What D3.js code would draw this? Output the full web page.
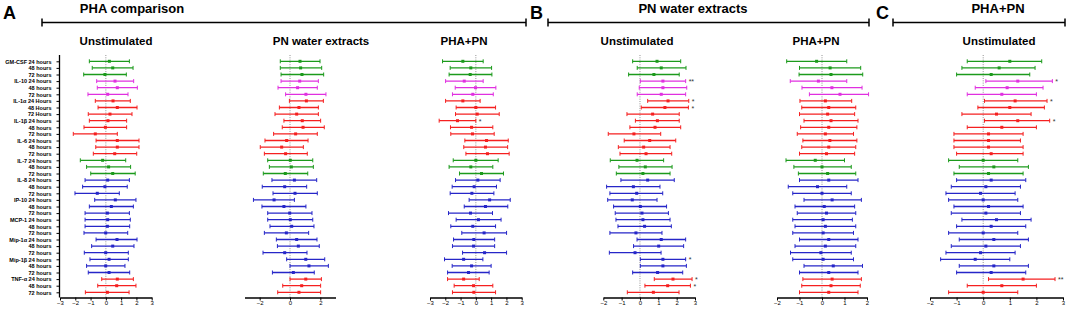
<!DOCTYPE html>
<html><head><meta charset="utf-8">
<script src="https://cdn.jsdelivr.net/npm/d3@7"></script>
<style>
html,body{margin:0;padding:0;background:#fff;}
svg{display:block;font-family:"Liberation Sans",Arial,sans-serif;}
</style></head>
<body><svg id="c" width="1072" height="309"></svg>
<script>
// ---------- DATA ----------
const rowLabels = [
 "GM-CSF 24 hours","48 hours","72 hours",
 "IL-10 24 hours","48 hours","72 hours",
 "IL-1\u03b1 24 Hours","48 Hours","72 Hours",
 "IL-1\u03b2 24 hours","48 hours","72 hours",
 "IL-6 24 hours","48 hours","72 hours",
 "IL-7 24 hours","48 hours","72 hours",
 "IL-8 24 hours","48 hours","72 hours",
 "IP-10 24 hours","48 hours","72 hours",
 "MCP-1 24 hours","48 hours","72 hours",
 "Mip-1\u03b1 24 hours","48 hours","72 hours",
 "Mip-1\u03b2 24 hours","48 hours","72 hours",
 "TNF-\u03b1 24 hours","48 hours","72 hours"
];
const cytokineGroup = ["green","magenta","red","red","red","green","blue","blue","blue","blue","blue","red"];

// [low, mean, high] per row
const phaUnstim = [
 [-1.08,0.23,1.54],[-0.89,0.45,1.78],[-1.45,-0.06,1.34],
 [-0.60,0.60,1.82],[-0.56,0.75,2.06],[-1.17,0.12,1.45],
 [-0.69,0.47,1.60],[-0.51,0.75,2.04],[-1.15,0.27,1.71],
 [-1.08,0.14,1.36],[-1.43,-0.03,1.36],[-2.13,-0.69,0.75],
 [-0.64,0.75,2.17],[-0.66,0.75,2.17],[-0.82,0.58,2.02],
 [-1.67,-0.21,1.30],[-1.26,0.18,1.62],[-0.99,0.45,1.92],
 [-1.36,0.12,1.54],[-1.52,-0.06,1.40],[-2.02,-0.56,0.88],
 [-0.73,0.62,1.97],[-1.08,0.36,1.80],[-1.36,0.10,1.54],
 [-1.36,0.12,1.60],[-1.36,0.10,1.56],[-1.43,-0.01,1.43],
 [-0.64,0.73,2.04],[-0.93,0.45,1.84],[-1.41,-0.01,1.47],
 [-1.04,0.21,1.47],[-1.26,-0.01,1.25],[-1.15,0.21,1.56],
 [-0.27,0.75,1.80],[-0.53,0.71,1.97],[-1.34,0.10,1.52]
];
const phaPN = [
 [-0.64,0.66,1.98],[-0.64,0.70,2.09],[-0.59,0.79,2.22],
 [-0.59,0.64,1.87],[-0.79,0.50,1.80],[-0.29,1.05,2.37],
 [-0.04,1.08,2.20],[-0.70,0.59,1.87],[-0.99,0.44,1.87],
 [-0.40,0.81,2.02],[-0.51,0.86,2.26],[-1.08,0.37,1.80],
 [-1.65,-0.22,1.19],[-1.96,-0.55,0.88],[-1.69,-0.29,1.14],
 [-1.47,0.02,1.50],[-1.36,0.09,1.54],[-1.76,-0.31,1.17],
 [-1.19,0.29,1.76],[-1.83,-0.35,1.10],[-1.12,0.33,1.80],
 [-2.41,-1.05,0.29],[-1.85,-0.40,1.05],[-1.47,-0.02,1.45],
 [-1.47,0.02,1.50],[-1.32,0.11,1.58],[-1.69,-0.24,1.23],
 [-0.90,0.44,1.78],[-0.83,0.55,1.93],[-1.78,-0.35,1.12],
 [-0.22,1.04,2.29],[0.00,1.25,2.53],[-1.16,0.22,1.60],
 [0.00,1.04,2.07],[-0.48,0.77,2.02],[-0.81,0.59,2.02]
];
const phaPHAPN = [
 [-2.18,-0.85,0.48],[-1.68,-0.33,1.03],[-1.75,-0.37,1.05],
 [-1.98,-0.76,0.48],[-1.35,-0.02,1.31],[-1.53,-0.20,1.14],
 [-1.98,-0.85,0.28],[-1.29,0.00,1.29],[-1.33,0.09,1.53],
 [-2.40,-1.20,0.00],[-1.66,-0.28,1.11],[-1.64,-0.22,1.20],
 [-0.72,0.70,2.12],[-0.79,0.63,2.08],[-0.65,0.76,2.18],
 [-1.48,0.00,1.46],[-1.75,-0.33,1.11],[-1.07,0.37,1.81],
 [-1.33,0.13,1.59],[-1.55,-0.11,1.35],[-1.68,-0.26,1.18],
 [-0.44,0.90,2.25],[-0.76,0.63,2.09],[-1.79,-0.35,1.09],
 [-1.29,0.17,1.65],[-1.64,-0.20,1.29],[-0.92,0.54,2.01],
 [-1.46,-0.13,1.23],[-1.53,-0.15,1.23],[-0.87,0.57,2.01],
 [-2.05,-0.80,0.46],[-1.55,-0.28,1.00],[-1.85,-0.48,0.87],
 [-1.85,-0.80,0.22],[-1.42,-0.15,1.11],[-1.53,-0.13,1.29]
];
const pnUnstim = [
 [-0.40,0.93,2.22],[-0.15,1.16,2.51],[-0.62,0.76,2.14],
 [0.02,1.25,2.49],[-0.04,1.25,2.55],[-0.15,1.16,2.49],
 [0.42,1.53,2.66],[0.07,1.36,2.64],[-0.71,0.69,2.14],
 [-0.25,0.95,2.14],[-0.55,0.82,2.22],[-1.73,-0.33,1.13],
 [-0.86,0.53,1.95],[-1.18,0.20,1.64],[-1.09,0.33,1.73],
 [-1.62,-0.16,1.29],[-1.15,0.29,1.75],[-1.29,0.16,1.64],
 [-1.04,0.42,1.87],[-1.82,-0.36,1.09],[-1.64,-0.18,1.24],
 [-1.76,-0.42,0.93],[-1.44,0.02,1.45],[-1.35,0.11,1.55],
 [-1.31,0.16,1.64],[-1.20,0.25,1.71],[-1.64,-0.22,1.20],
 [-0.16,1.16,2.49],[-0.35,1.02,2.38],[-1.67,-0.27,1.15],
 [0.02,1.25,2.49],[0.02,1.25,2.53],[-0.40,0.96,2.33],
 [0.78,1.80,2.84],[0.27,1.51,2.75],[-0.69,0.73,2.13]
];
const pnPHAPN = [
 [-1.57,-0.24,1.10],[-1.00,0.36,1.72],[-1.02,0.40,1.81],
 [-1.41,-0.16,1.10],[-0.89,0.44,1.78],[-0.56,0.80,2.07],
 [-0.98,0.15,1.32],[-0.90,0.30,1.50],[-1.00,0.25,1.45],
 [-0.80,0.40,1.60],[-0.95,0.30,1.55],[-1.10,0.15,1.40],
 [-0.85,0.35,1.55],[-0.90,0.30,1.50],[-1.00,0.20,1.45],
 [-1.60,-0.30,1.00],[-1.25,0.00,1.30],[-1.05,0.25,1.50],
 [-1.00,0.30,1.60],[-1.50,-0.20,1.10],[-1.30,0.00,1.30],
 [-0.80,0.45,1.75],[-1.20,0.10,1.45],[-1.10,0.20,1.50],
 [-1.30,0.05,1.35],[-1.20,0.15,1.50],[-1.30,0.05,1.40],
 [-1.00,0.30,1.60],[-1.20,0.15,1.50],[-1.40,-0.05,1.30],
 [-1.30,0.05,1.40],[-0.80,0.50,1.80],[-1.00,0.30,1.60],
 [-0.85,0.45,1.75],[-0.90,0.40,1.70],[-1.00,0.30,1.60]
];
const phapnUnstim = [
 [-0.60,1.00,2.20],[-0.80,0.60,1.95],[-1.00,0.30,1.75],
 [0.10,1.30,2.60],[-0.30,0.90,2.25],[-0.60,0.70,2.00],
 [0.05,1.20,2.40],[-0.20,1.00,2.30],[-0.80,0.50,1.80],
 [0.05,1.30,2.50],[-0.60,0.70,2.00],[-1.10,0.20,1.50],
 [-1.10,0.20,1.40],[-1.10,0.20,1.50],[-1.00,0.30,1.50],
 [-1.30,0.00,1.30],[-0.90,0.40,1.70],[-1.10,0.20,1.50],
 [-1.00,0.30,1.60],[-1.20,0.10,1.40],[-1.40,-0.10,1.20],
 [-1.30,0.00,1.30],[-1.10,0.20,1.50],[-1.20,0.10,1.40],
 [-0.80,0.50,1.80],[-1.00,0.30,1.60],[-1.30,0.00,1.30],
 [-0.90,0.40,1.70],[-1.20,0.10,1.40],[-1.40,-0.10,1.20],
 [-1.60,-0.30,1.00],[-0.90,0.40,1.70],[-1.00,0.30,1.60],
 [0.20,1.50,2.70],[-0.60,0.70,2.00],[-1.30,0.00,1.30]
];

// significance marks: [row index, text]
const starsA3 = [[9,"*"]];
const starsB1 = [[3,"**"],[6,"*"],[7,"*"],[30,"*"],[33,"*"],[34,"*"]];
const starsC1 = [[3,"*"],[6,"*"],[9,"*"],[33,"**"]];

const xTicksFull = [-3,-2,-1,0,1,2,3];
const xTicksSparse = [-2,0,2];
const xTicksB = [-2,-1,0,1,2,3];
const xTicksB2 = [-2,-1,0,1,2];

// ---------- STYLE / LAYOUT ----------
const colorMap = {green:"#1c9a1c", magenta:"#e030e0", red:"#f52020", blue:"#2626c8"};
const svg = d3.select("#c");
const y = d3.scalePoint().domain(d3.range(rowLabels.length)).range([61.3, 292.3]);
const axisY = 297.5, plotTop = 55;

const panels = [
 {data:phaUnstim, domain:[-3,3], range:[60,151.7], ticks:xTicksFull, title:"Unstimulated", tx:116, yaxis:true, stars:[]},
 {data:phaPN, domain:[-3,3], range:[244.5,335.5], ticks:xTicksSparse, title:"PN water extracts", tx:321, stars:[]},
 {data:phaPHAPN, domain:[-3,3], range:[430,521.7], ticks:xTicksFull, title:"PHA+PN", tx:464, stars:starsA3},
 {data:pnUnstim, domain:[-2,3], range:[603.3,695], ticks:xTicksB, title:"Unstimulated", tx:637, stars:starsB1},
 {data:pnPHAPN, domain:[-2,2], range:[777,867], ticks:xTicksB2, title:"PHA+PN", tx:816, stars:[]},
 {data:phapnUnstim, domain:[-2,3], range:[930,1063], ticks:xTicksB, title:"Unstimulated", tx:999, stars:starsC1}
];

const rowColor = i => colorMap[cytokineGroup[Math.floor(i/3)]];

panels.forEach(p => {
  const x = d3.scaleLinear().domain(p.domain).range(p.range);
  const g = svg.append("g");
  g.append("text").attr("x", p.tx).attr("y", 45).attr("text-anchor","middle")
    .attr("font-size", 11.5).attr("font-weight","bold").text(p.title);
  g.append("line").attr("x1", x(0)).attr("x2", x(0)).attr("y1", plotTop).attr("y2", axisY)
    .attr("stroke","#777").attr("stroke-width",0.8).attr("stroke-dasharray","1,1.3");
  const ax = g.append("g").attr("transform",`translate(0,${axisY})`)
    .call(d3.axisBottom(x).tickValues(p.ticks).tickSize(3).tickSizeOuter(0).tickFormat(d3.format("d")));
  ax.select(".domain").attr("stroke","#000").attr("stroke-width",1.3);
  ax.selectAll(".tick line").attr("stroke","#000").attr("stroke-width",1);
  ax.selectAll(".tick text").attr("font-size",6).attr("font-family","Liberation Sans, Arial").attr("dy","0.55em").attr("y",4).attr("fill","#000");
  if (p.yaxis) {
    const ya = g.append("g").attr("transform",`translate(${p.range[0]-0.5},0)`)
      .call(d3.axisLeft(y).tickSize(3).tickFormat(i => rowLabels[i]).tickPadding(5));
    ya.select(".domain").attr("d", `M0,${plotTop}V${axisY}`).attr("stroke","#000").attr("stroke-width",1.3);
    ya.selectAll(".tick line").attr("stroke","#000");
    ya.selectAll(".tick text").attr("font-size",5.5).attr("font-weight","bold").attr("fill","#000")
      .attr("font-family","Liberation Sans, Arial");
  }
  const rows = g.selectAll("g.row").data(p.data).join("g").attr("class","row");
  rows.append("line").attr("x1", d=>x(d[0])).attr("x2", d=>x(d[2]))
    .attr("y1",(d,i)=>y(i)).attr("y2",(d,i)=>y(i))
    .attr("stroke",(d,i)=>rowColor(i)).attr("stroke-width",1.3);
  [0,2].forEach(k => rows.append("line").attr("x1", d=>x(d[k])).attr("x2", d=>x(d[k]))
    .attr("y1",(d,i)=>y(i)-2).attr("y2",(d,i)=>y(i)+2)
    .attr("stroke",(d,i)=>rowColor(i)).attr("stroke-width",1));
  rows.append("rect").attr("x", d=>x(d[1])-1.5).attr("y",(d,i)=>y(i)-1.5)
    .attr("width",3).attr("height",3).attr("fill",(d,i)=>rowColor(i));
  p.stars.forEach(([r,t]) => {
    g.append("text").attr("x", x(p.data[r][2]) + 3).attr("y", y(r)+3)
      .attr("font-size",7).attr("fill","#333").text(t);
  });
});

const headers = [
 {letter:"A", lx:3, title:"PHA comparison", tx:132, x1:42, x2:526},
 {letter:"B", lx:530, title:"PN water extracts", tx:693, x1:548, x2:869},
 {letter:"C", lx:876, title:"PHA+PN", tx:998, x1:893, x2:1065}
];
headers.forEach(h => {
  svg.append("text").attr("x",h.lx).attr("y",18.5).attr("font-size",18).attr("font-weight","bold").text(h.letter);
  svg.append("text").attr("x",h.tx).attr("y",12.5).attr("text-anchor","middle").attr("font-size",13).attr("font-weight","bold").text(h.title);
  svg.append("line").attr("x1",h.x1).attr("x2",h.x2).attr("y1",22.5).attr("y2",22.5).attr("stroke","#000").attr("stroke-width",1.5);
  [h.x1,h.x2].forEach(xx => svg.append("line").attr("x1",xx).attr("x2",xx).attr("y1",18.5).attr("y2",26.5).attr("stroke","#000").attr("stroke-width",1.5));
});
</script></body></html>
